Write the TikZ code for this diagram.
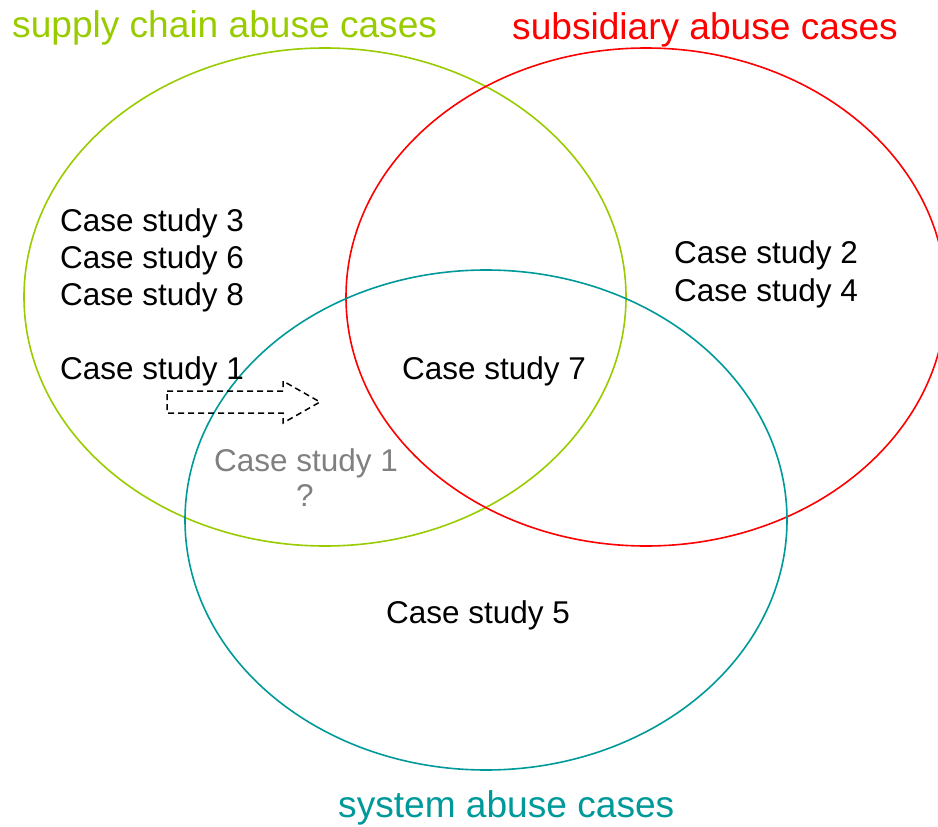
\documentclass[tikz,border=0pt]{standalone}
\usepackage{fontspec}
\setmainfont{Liberation Sans}
\definecolor{cgreen}{HTML}{99CC00}
\definecolor{cred}{HTML}{FF0000}
\definecolor{cteal}{HTML}{009999}
\definecolor{cgray}{HTML}{808080}
\begin{document}
\begin{tikzpicture}[x=1pt,y=-1pt,
  setring/.style={line width=1.6pt},
  casetxt/.style={anchor=base west,inner sep=0pt,font=\fontsize{31.5}{37}\selectfont},
  titletxt/.style={anchor=base west,inner sep=0pt,font=\fontsize{37.1}{40}\selectfont}]
\useasboundingbox (0,0) rectangle (938,827);
\begin{scope}
\clip (0,0) rectangle (938,827);
\draw[setring,cgreen] (325,297) ellipse [x radius=301, y radius=249];
\draw[setring,cred] (646,297) ellipse [x radius=300, y radius=249];
\draw[setring,cteal] (486,520) ellipse [x radius=301, y radius=250];
\end{scope}
\node[titletxt,cgreen] (t1) at (12,37) {supply chain abuse cases};
\node[titletxt,cred] (t2) at (512,39) {subsidiary abuse cases};
\node[titletxt,cteal] (t3) at (338,817) {system abuse cases};
\node[casetxt] (c3) at (60,231) {Case study 3};
\node[casetxt] (c6) at (60,268) {Case study 6};
\node[casetxt] (c8) at (60,305) {Case study 8};
\node[casetxt] (c1) at (60,379) {Case study 1};
\node[casetxt] (c2) at (674,263) {Case study 2};
\node[casetxt] (c4) at (674,301) {Case study 4};
\node[casetxt] (c7) at (402,379) {Case study 7};
\node[casetxt] (c5) at (386,623) {Case study 5};
\node[casetxt,cgray] (g1) at (214,471) {Case study 1};
\node[casetxt,cgray,anchor=base] (gq) at (305,506) {?};
\draw[line width=1.5pt,dash pattern=on 6pt off 4pt,line join=miter]
  (167,391) -- (283,391) -- (283,381) -- (320,402) -- (283,423) -- (283,413) -- (167,413) -- cycle;
\end{tikzpicture}
\end{document}
